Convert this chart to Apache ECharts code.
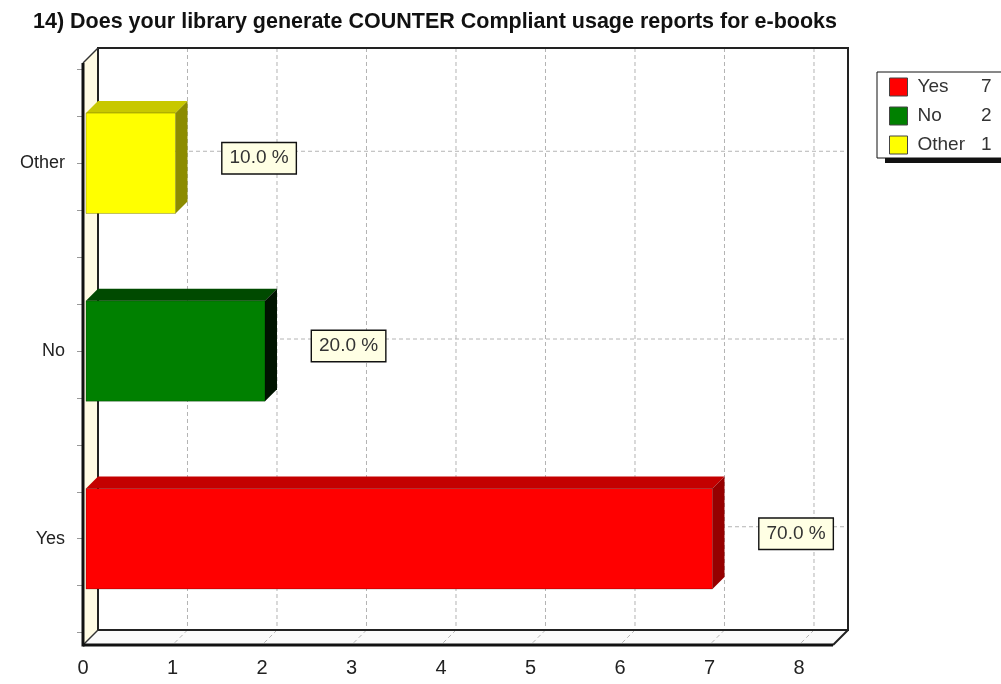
<!DOCTYPE html>
<html><head><meta charset="utf-8">
<script src="https://cdn.jsdelivr.net/npm/echarts@6/dist/echarts.min.js"></script>
<style>html,body{margin:0;padding:0;background:#fff}#c{width:1001px;height:684px}</style>
</head><body><div id="c"></div>
<script>
// ---- data ----
const titleText = '14) Does your library generate COUNTER Compliant usage reports for e-books';
const categories = ['Yes', 'No', 'Other'];
const counts = [7, 2, 1];
const percentLabels = ['70.0 %', '20.0 %', '10.0 %'];
const xTickValues = [0, 1, 2, 3, 4, 5, 6, 7, 8];

// ---- styles ----
const faceColors = [
  { front: '#ff0000', top: '#c40000', side: '#960000' },
  { front: '#008000', top: '#004a00', side: '#001400' },
  { front: '#ffff00', top: '#c8c800', side: '#8c8c00' }
];
const FONT = "'Liberation Sans', Arial, sans-serif";
const X_MAX = 8.38, Y_MIN = -0.55, Y_MAX = 2.55;
const DEPTH = 12, FRONT = 3, BAR_H = 0.535;

function frameRender(params, api) {
  const bl = api.coord([0, Y_MIN]), tr = api.coord([X_MAX, Y_MAX]);
  const L = bl[0], B = bl[1], R = tr[0], T = tr[1];
  const d = DEPTH, f = FRONT;
  const bL = L + d, bT = T - d, bR = R + d, bB = B - d;
  const fL = L - f, fT = T + f, fR = R - f, fB = B + f;
  const dash = { stroke: '#b4b4b4', lineWidth: 1, lineDash: [4, 3] };
  const ch = [];
  ch.push({ type: 'rect', shape: { x: bL, y: bT, width: bR - bL, height: bB - bT }, style: { fill: '#ffffff' } });
  ch.push({ type: 'polygon', shape: { points: [[fL, fT], [bL, bT], [bL, bB], [fL, fB]] }, style: { fill: '#fffbe4' } });
  ch.push({ type: 'polygon', shape: { points: [[fL, fB], [bL, bB], [bR, bB], [fR, fB]] }, style: { fill: '#fbfbfb' } });
  xTickValues.forEach(function (k) {
    if (k === 0) return;
    const x = api.coord([k, 0])[0];
    ch.push({ type: 'line', shape: { x1: x + d, y1: bT, x2: x + d, y2: bB }, style: dash });
    ch.push({ type: 'line', shape: { x1: x + d, y1: bB, x2: x - f, y2: fB }, style: dash });
  });
  categories.forEach(function (c, i) {
    const y = api.coord([0, i])[1] - d;
    ch.push({ type: 'line', shape: { x1: bL, y1: y, x2: bR, y2: y }, style: dash });
  });
  ch.push({ type: 'rect', shape: { x: bL, y: bT, width: bR - bL, height: bB - bT }, style: { fill: null, stroke: '#222', lineWidth: 2 } });
  ch.push({ type: 'line', shape: { x1: fL, y1: fT, x2: bL, y2: bT }, style: { stroke: '#333', lineWidth: 1.5 } });
  ch.push({ type: 'line', shape: { x1: fL, y1: fB, x2: bL, y2: bB }, style: { stroke: '#333', lineWidth: 1.5 } });
  ch.push({ type: 'line', shape: { x1: fR, y1: fB, x2: bR, y2: bB }, style: { stroke: '#222', lineWidth: 2 } });
  ch.push({ type: 'line', shape: { x1: fL, y1: fT, x2: fL, y2: fB + 1.5 }, style: { stroke: '#111', lineWidth: 3 } });
  ch.push({ type: 'line', shape: { x1: fL, y1: fB, x2: fR, y2: fB }, style: { stroke: '#111', lineWidth: 3 } });
  return { type: 'group', children: ch };
}

function makeBarRender(idx) {
  return function (params, api) {
    const v = api.value(0), yi = api.value(1);
    const c0 = api.coord([0, yi]), c1 = api.coord([v, yi]);
    const h = api.size([0, BAR_H])[1];
    const x0 = c0[0], x1 = c1[0], yc = c0[1], yt = yc - h / 2, yb = yc + h / 2;
    const d = DEPTH, col = faceColors[idx];
    return {
      type: 'group', children: [
        { type: 'polygon', shape: { points: [[x0, yt], [x0 + d, yt - d], [x1 + d, yt - d], [x1, yt]] }, style: { fill: col.top } },
        { type: 'polygon', shape: { points: [[x1, yt], [x1 + d, yt - d], [x1 + d, yb - d], [x1, yb]] }, style: { fill: col.side } },
        { type: 'rect', shape: { x: x0, y: yt, width: x1 - x0, height: h }, style: { fill: col.front, stroke: 'rgba(0,0,0,0.25)', lineWidth: 1 } },
        { type: 'text', x: x1 + 47, y: yc - 5, style: {
            text: percentLabels[idx], fill: '#333', font: '19px ' + FONT,
            align: 'left', verticalAlign: 'middle',
            backgroundColor: '#ffffe4', borderColor: '#111', borderWidth: 1.4, padding: [6, 7, 5, 7]
          } }
      ]
    };
  };
}

const quarterTicks = [];
for (let q = -2; q <= 10; q++) quarterTicks.push(q / 4);

const series = [{
  type: 'custom', name: '_frame', renderItem: frameRender, data: [[0, 0]], z: 1, silent: true
}];
categories.forEach(function (c, i) {
  series.push({
    type: 'custom', name: c, renderItem: makeBarRender(i),
    data: [[counts[i], i]], itemStyle: { color: faceColors[i].front }, z: 2
  });
});

function legendBase(extra) {
  const base = {
    data: categories, orient: 'vertical', left: 877, top: 72,
    padding: [5, 10, 3, 12], itemGap: 9, itemWidth: 18, itemHeight: 18, icon: 'rect',
    borderRadius: 0,
    formatter: function (name) {
      return '{n|' + name + '}{v|' + counts[categories.indexOf(name)] + '}';
    },
    textStyle: {
      fontFamily: FONT, fontSize: 19, color: '#333', lineHeight: 20,
      rich: {
        n: { width: 64, padding: [0, 0, 0, 5], fontSize: 19, fontFamily: FONT },
        v: { width: 10, align: 'right', fontSize: 19, fontFamily: FONT }
      }
    }
  };
  return Object.assign(base, extra);
}

const chart = echarts.init(document.getElementById('c'), null, { renderer: 'canvas' });
chart.setOption({
  animation: false,
  backgroundColor: '#fff',
  title: {
    text: titleText, left: 28, top: 6,
    textStyle: { fontFamily: FONT, fontWeight: 'bold', fontSize: 21.5, color: '#111' }
  },
  legend: [
    legendBase({
      left: 885, top: 77, z: 3, selectedMode: false,
      backgroundColor: '#111', borderWidth: 0,
      itemStyle: { color: '#111', borderColor: '#111', borderWidth: 0 },
      textStyle: {
        fontFamily: FONT, fontSize: 19, color: '#111', lineHeight: 20,
        rich: {
          n: { width: 64, padding: [0, 0, 0, 5], fontSize: 19, fontFamily: FONT, color: '#111' },
          v: { width: 10, align: 'right', fontSize: 19, fontFamily: FONT, color: '#111' }
        }
      }
    }),
    legendBase({
      z: 5, backgroundColor: '#fff', borderColor: '#111', borderWidth: 1,
      itemStyle: { borderColor: '#444', borderWidth: 1 }
    })
  ],
  grid: { left: 86, right: 165, top: 60, bottom: 42, containLabel: false },
  xAxis: {
    type: 'value', min: 0, max: X_MAX, interval: 1, offset: 3,
    axisLine: { show: false },
    axisTick: { show: true, length: 5, lineStyle: { color: '#999' } },
    minorTick: { show: true, splitNumber: 4, length: 3, lineStyle: { color: '#bbb' } },
    splitLine: { show: false },
    axisLabel: {
      margin: 13, fontSize: 20, fontFamily: FONT, color: '#222', padding: [0, 6, 0, 0],
      formatter: function (v) { return xTickValues.indexOf(v) >= 0 ? String(v) : ''; }
    }
  },
  yAxis: {
    type: 'value', min: Y_MIN, max: Y_MAX, offset: 3,
    axisLine: { show: false },
    axisTick: { show: true, length: 9, customValues: quarterTicks, lineStyle: { color: '#999' } },
    splitLine: { show: false },
    axisLabel: {
      margin: 18, fontSize: 18, fontFamily: FONT, color: '#222',
      customValues: [0, 1, 2],
      formatter: function (v) { return categories[Math.round(v)]; }
    }
  },
  series: series
});
</script>
</body></html>
